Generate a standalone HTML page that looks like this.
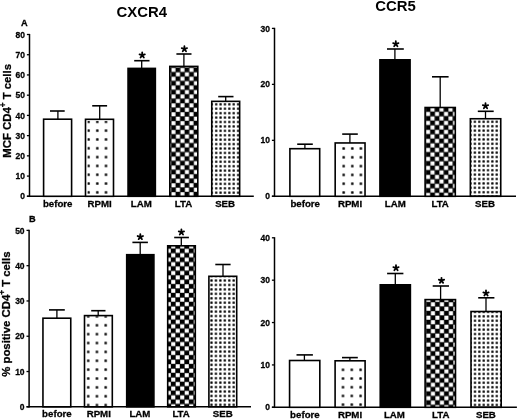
<!DOCTYPE html>
<html><head><meta charset="utf-8"><title>CXCR4 / CCR5</title>
<style>
html,body{margin:0;padding:0;background:#fff;}
body{width:520px;height:419px;overflow:hidden;font-family:"Liberation Sans", sans-serif;}
svg{display:block;filter:grayscale(1);}
text.s{stroke:#000;stroke-width:0.28px;}
</style></head><body>
<svg width="520" height="419" viewBox="0 0 520 419" font-family='"Liberation Sans", sans-serif' font-weight="bold" fill="#000"><defs><pattern id="p1" patternUnits="userSpaceOnUse" x="84.25" y="117.39" width="8.7" height="8.82"><rect x="3.15" y="3.21" width="2.4" height="2.4" rx="0.54" fill="#000"/></pattern><pattern id="p2" patternUnits="userSpaceOnUse" x="175.7" y="138.7" width="9" height="8.88"><rect x="0" y="0" width="9" height="8.88" fill="#000"/><rect x="4.7" y="0.2" width="4.1" height="4.04" fill="#fff"/><rect x="0.2" y="4.64" width="4.1" height="4.04" fill="#fff"/></pattern><pattern id="p3" patternUnits="userSpaceOnUse" x="214.01" y="102.09" width="4.38" height="4.42"><rect x="1.07" y="1.09" width="2.24" height="2.24" rx="0.5" fill="#000"/></pattern><pattern id="p4" patternUnits="userSpaceOnUse" x="339.4" y="144.1" width="8.6" height="8.8"><rect x="3.1" y="3.2" width="2.4" height="2.4" rx="0.54" fill="#000"/></pattern><pattern id="p5" patternUnits="userSpaceOnUse" x="430.3" y="138.7" width="9" height="9"><rect x="0" y="0" width="9" height="9" fill="#000"/><rect x="4.7" y="0.2" width="4.1" height="4.1" fill="#fff"/><rect x="0.2" y="4.7" width="4.1" height="4.1" fill="#fff"/></pattern><pattern id="p6" patternUnits="userSpaceOnUse" x="472.71" y="119.6" width="4.37" height="4.4"><rect x="1.06" y="1.08" width="2.24" height="2.24" rx="0.5" fill="#000"/></pattern><pattern id="p7" patternUnits="userSpaceOnUse" x="83.83" y="311.96" width="8.75" height="8.87"><rect x="3.17" y="3.23" width="2.4" height="2.4" rx="0.54" fill="#000"/></pattern><pattern id="p8" patternUnits="userSpaceOnUse" x="171" y="248.6" width="9" height="8.88"><rect x="0" y="0" width="9" height="8.88" fill="#000"/><rect x="4.7" y="0.2" width="4.1" height="4.04" fill="#fff"/><rect x="0.2" y="4.64" width="4.1" height="4.04" fill="#fff"/></pattern><pattern id="p9" patternUnits="userSpaceOnUse" x="209.28" y="278.28" width="4.44" height="4.44"><rect x="1.1" y="1.1" width="2.24" height="2.24" rx="0.5" fill="#000"/></pattern><pattern id="p10" patternUnits="userSpaceOnUse" x="338.6" y="365.45" width="8.8" height="8.7"><rect x="3.2" y="3.15" width="2.4" height="2.4" rx="0.54" fill="#000"/></pattern><pattern id="p11" patternUnits="userSpaceOnUse" x="426.2" y="302.1" width="9" height="8.94"><rect x="0" y="0" width="9" height="8.94" fill="#000"/><rect x="4.7" y="0.2" width="4.1" height="4.07" fill="#fff"/><rect x="0.2" y="4.67" width="4.1" height="4.07" fill="#fff"/></pattern><pattern id="p12" patternUnits="userSpaceOnUse" x="472.82" y="314.09" width="4.36" height="4.43"><rect x="1.06" y="1.09" width="2.24" height="2.24" rx="0.5" fill="#000"/></pattern></defs><line x1="29.5" y1="33.9" x2="29.5" y2="197.05" stroke="#000" stroke-width="1.5"/>
<line x1="26.9" y1="196.3" x2="253.8" y2="196.3" stroke="#000" stroke-width="1.5"/>
<line x1="26.9" y1="196.3" x2="29.5" y2="196.3" stroke="#000" stroke-width="1.3"/>
<text x="25" y="199.4" font-size="8.5" text-anchor="end" class="s">0</text>
<line x1="26.9" y1="176.08" x2="29.5" y2="176.08" stroke="#000" stroke-width="1.3"/>
<text x="25" y="179.18" font-size="8.5" text-anchor="end" class="s">10</text>
<line x1="26.9" y1="155.85" x2="29.5" y2="155.85" stroke="#000" stroke-width="1.3"/>
<text x="25" y="158.95" font-size="8.5" text-anchor="end" class="s">20</text>
<line x1="26.9" y1="135.62" x2="29.5" y2="135.62" stroke="#000" stroke-width="1.3"/>
<text x="25" y="138.72" font-size="8.5" text-anchor="end" class="s">30</text>
<line x1="26.9" y1="115.4" x2="29.5" y2="115.4" stroke="#000" stroke-width="1.3"/>
<text x="25" y="118.5" font-size="8.5" text-anchor="end" class="s">40</text>
<line x1="26.9" y1="95.18" x2="29.5" y2="95.18" stroke="#000" stroke-width="1.3"/>
<text x="25" y="98.28" font-size="8.5" text-anchor="end" class="s">50</text>
<line x1="26.9" y1="74.95" x2="29.5" y2="74.95" stroke="#000" stroke-width="1.3"/>
<text x="25" y="78.05" font-size="8.5" text-anchor="end" class="s">60</text>
<line x1="26.9" y1="54.73" x2="29.5" y2="54.73" stroke="#000" stroke-width="1.3"/>
<text x="25" y="57.83" font-size="8.5" text-anchor="end" class="s">70</text>
<line x1="26.9" y1="34.5" x2="29.5" y2="34.5" stroke="#000" stroke-width="1.3"/>
<text x="25" y="37.6" font-size="8.5" text-anchor="end" class="s">80</text>
<rect x="43.6" y="119.2" width="28" height="77.1" fill="#fff" stroke="#000" stroke-width="1.6"/>
<line x1="57.9" y1="111" x2="57.9" y2="119.2" stroke="#000" stroke-width="1.3"/>
<line x1="50" y1="111" x2="64.7" y2="111" stroke="#000" stroke-width="1.6"/>
<text x="57.7" y="207.3" font-size="9.7" text-anchor="middle" class="s">before</text>
<rect x="85.5" y="119.3" width="28" height="77" fill="#fff"/>
<rect x="87.4" y="120.9" width="24.2" height="75.4" fill="url(#p1)"/>
<rect x="85.5" y="119.3" width="28" height="77" fill="none" stroke="#000" stroke-width="1.6"/>
<line x1="99.7" y1="105.8" x2="99.7" y2="119.3" stroke="#000" stroke-width="1.3"/>
<line x1="92.2" y1="105.8" x2="107.1" y2="105.8" stroke="#000" stroke-width="1.6"/>
<text x="99.55" y="207.3" font-size="9.7" text-anchor="middle" class="s">RPMI</text>
<rect x="128.05" y="68.4" width="27.3" height="127.9" fill="#000" stroke="#000" stroke-width="1.6"/>
<line x1="141.7" y1="60.7" x2="141.7" y2="68.4" stroke="#000" stroke-width="1.3"/>
<line x1="134.2" y1="60.7" x2="149.5" y2="60.7" stroke="#000" stroke-width="1.6"/>
<path d="M142.2 55.2L142.2 52.4 M142.2 55.2L144.86 54.33 M142.2 55.2L143.85 57.47 M142.2 55.2L140.55 57.47 M142.2 55.2L139.54 54.33" stroke="#000" stroke-width="1.8" stroke-linecap="round" fill="none"/>
<text x="141.35" y="207.3" font-size="9.7" text-anchor="middle" class="s">LAM</text>
<rect x="169.8" y="66.4" width="28" height="129.9" fill="url(#p2)" stroke="#000" stroke-width="1.6"/>
<line x1="183.9" y1="54" x2="183.9" y2="66.4" stroke="#000" stroke-width="1.3"/>
<line x1="176.4" y1="54" x2="191.5" y2="54" stroke="#000" stroke-width="1.6"/>
<path d="M184.4 49L184.4 46.2 M184.4 49L187.06 48.13 M184.4 49L186.05 51.27 M184.4 49L182.75 51.27 M184.4 49L181.74 48.13" stroke="#000" stroke-width="1.8" stroke-linecap="round" fill="none"/>
<text x="183.5" y="207.3" font-size="9.7" text-anchor="middle" class="s">LTA</text>
<rect x="211.75" y="101.35" width="27.9" height="94.95" fill="url(#p3)" stroke="#000" stroke-width="1.6"/>
<line x1="225.7" y1="96.6" x2="225.7" y2="101.35" stroke="#000" stroke-width="1.3"/>
<line x1="218.2" y1="96.6" x2="233.5" y2="96.6" stroke="#000" stroke-width="1.6"/>
<text x="225.1" y="207.3" font-size="9.7" text-anchor="middle" class="s">SEB</text>
<line x1="274.5" y1="27.8" x2="274.5" y2="197.05" stroke="#000" stroke-width="1.5"/>
<line x1="271.9" y1="196.3" x2="516" y2="196.3" stroke="#000" stroke-width="1.5"/>
<line x1="271.9" y1="196.3" x2="274.5" y2="196.3" stroke="#000" stroke-width="1.3"/>
<text x="270" y="199.4" font-size="8.5" text-anchor="end" class="s">0</text>
<line x1="271.9" y1="140.33" x2="274.5" y2="140.33" stroke="#000" stroke-width="1.3"/>
<text x="270" y="143.43" font-size="8.5" text-anchor="end" class="s">10</text>
<line x1="271.9" y1="84.37" x2="274.5" y2="84.37" stroke="#000" stroke-width="1.3"/>
<text x="270" y="87.47" font-size="8.5" text-anchor="end" class="s">20</text>
<line x1="271.9" y1="28.4" x2="274.5" y2="28.4" stroke="#000" stroke-width="1.3"/>
<text x="270" y="31.5" font-size="8.5" text-anchor="end" class="s">30</text>
<rect x="289.9" y="148.7" width="29.8" height="47.6" fill="#fff" stroke="#000" stroke-width="1.6"/>
<line x1="304.9" y1="144.2" x2="304.9" y2="148.7" stroke="#000" stroke-width="1.3"/>
<line x1="297.2" y1="144.2" x2="312.8" y2="144.2" stroke="#000" stroke-width="1.6"/>
<text x="305.2" y="207.3" font-size="9.7" text-anchor="middle" class="s">before</text>
<rect x="335.18" y="142.95" width="29.85" height="53.35" fill="#fff"/>
<rect x="337.07" y="144.55" width="26.05" height="51.75" fill="url(#p4)"/>
<rect x="335.18" y="142.95" width="29.85" height="53.35" fill="none" stroke="#000" stroke-width="1.6"/>
<line x1="349.9" y1="134.1" x2="349.9" y2="142.95" stroke="#000" stroke-width="1.3"/>
<line x1="342.2" y1="134.1" x2="357.8" y2="134.1" stroke="#000" stroke-width="1.6"/>
<text x="350" y="207.3" font-size="9.7" text-anchor="middle" class="s">RPMI</text>
<rect x="379.93" y="59.8" width="30.15" height="136.5" fill="#000" stroke="#000" stroke-width="1.6"/>
<line x1="394.9" y1="49" x2="394.9" y2="59.8" stroke="#000" stroke-width="1.3"/>
<line x1="387" y1="49" x2="403.8" y2="49" stroke="#000" stroke-width="1.6"/>
<path d="M395.8 44L395.8 41.2 M395.8 44L398.46 43.13 M395.8 44L397.45 46.27 M395.8 44L394.15 46.27 M395.8 44L393.14 43.13" stroke="#000" stroke-width="1.8" stroke-linecap="round" fill="none"/>
<text x="395.25" y="207.3" font-size="9.7" text-anchor="middle" class="s">LAM</text>
<rect x="425.1" y="107.5" width="30.2" height="88.8" fill="url(#p5)" stroke="#000" stroke-width="1.6"/>
<line x1="440.2" y1="76.8" x2="440.2" y2="107.5" stroke="#000" stroke-width="1.3"/>
<line x1="432" y1="76.8" x2="448.6" y2="76.8" stroke="#000" stroke-width="1.6"/>
<text x="440.15" y="207.3" font-size="9.7" text-anchor="middle" class="s">LTA</text>
<rect x="470.35" y="118.75" width="30.4" height="77.55" fill="url(#p6)" stroke="#000" stroke-width="1.6"/>
<line x1="485.5" y1="111.3" x2="485.5" y2="118.75" stroke="#000" stroke-width="1.3"/>
<line x1="477.8" y1="111.3" x2="493.7" y2="111.3" stroke="#000" stroke-width="1.6"/>
<path d="M485.5 106L485.5 103.2 M485.5 106L488.16 105.13 M485.5 106L487.15 108.27 M485.5 106L483.85 108.27 M485.5 106L482.84 105.13" stroke="#000" stroke-width="1.8" stroke-linecap="round" fill="none"/>
<text x="485" y="207.3" font-size="9.7" text-anchor="middle" class="s">SEB</text>
<line x1="29.1" y1="229.8" x2="29.1" y2="407.55" stroke="#000" stroke-width="1.5"/>
<line x1="26.5" y1="406.8" x2="251" y2="406.8" stroke="#000" stroke-width="1.5"/>
<line x1="26.5" y1="406.8" x2="29.1" y2="406.8" stroke="#000" stroke-width="1.3"/>
<text x="24.6" y="409.9" font-size="8.5" text-anchor="end" class="s">0</text>
<line x1="26.5" y1="371.52" x2="29.1" y2="371.52" stroke="#000" stroke-width="1.3"/>
<text x="24.6" y="374.62" font-size="8.5" text-anchor="end" class="s">10</text>
<line x1="26.5" y1="336.24" x2="29.1" y2="336.24" stroke="#000" stroke-width="1.3"/>
<text x="24.6" y="339.34" font-size="8.5" text-anchor="end" class="s">20</text>
<line x1="26.5" y1="300.96" x2="29.1" y2="300.96" stroke="#000" stroke-width="1.3"/>
<text x="24.6" y="304.06" font-size="8.5" text-anchor="end" class="s">30</text>
<line x1="26.5" y1="265.68" x2="29.1" y2="265.68" stroke="#000" stroke-width="1.3"/>
<text x="24.6" y="268.78" font-size="8.5" text-anchor="end" class="s">40</text>
<line x1="26.5" y1="230.4" x2="29.1" y2="230.4" stroke="#000" stroke-width="1.3"/>
<text x="24.6" y="233.5" font-size="8.5" text-anchor="end" class="s">50</text>
<rect x="42.95" y="318.2" width="27.8" height="88.6" fill="#fff" stroke="#000" stroke-width="1.6"/>
<line x1="56.9" y1="309.9" x2="56.9" y2="318.2" stroke="#000" stroke-width="1.3"/>
<line x1="49" y1="309.9" x2="64.8" y2="309.9" stroke="#000" stroke-width="1.6"/>
<text x="56.9" y="417.3" font-size="9.7" text-anchor="middle" class="s">before</text>
<rect x="84.5" y="315.6" width="27.8" height="91.2" fill="#fff"/>
<rect x="86.4" y="316.2" width="24" height="90.6" fill="url(#p7)"/>
<rect x="84.5" y="315.6" width="27.8" height="91.2" fill="none" stroke="#000" stroke-width="1.6"/>
<line x1="98.2" y1="310.7" x2="98.2" y2="315.6" stroke="#000" stroke-width="1.3"/>
<line x1="91.2" y1="310.7" x2="105.5" y2="310.7" stroke="#000" stroke-width="1.6"/>
<text x="98.75" y="417.3" font-size="9.7" text-anchor="middle" class="s">RPMI</text>
<rect x="126.7" y="254.7" width="27.2" height="152.1" fill="#000" stroke="#000" stroke-width="1.6"/>
<line x1="140.2" y1="242.4" x2="140.2" y2="254.7" stroke="#000" stroke-width="1.3"/>
<line x1="132.4" y1="242.4" x2="147.9" y2="242.4" stroke="#000" stroke-width="1.6"/>
<path d="M140.3 236.9L140.3 234.1 M140.3 236.9L142.96 236.03 M140.3 236.9L141.95 239.17 M140.3 236.9L138.65 239.17 M140.3 236.9L137.64 236.03" stroke="#000" stroke-width="1.8" stroke-linecap="round" fill="none"/>
<text x="139.9" y="417.3" font-size="9.7" text-anchor="middle" class="s">LAM</text>
<rect x="167.7" y="245.8" width="27.6" height="161" fill="url(#p8)" stroke="#000" stroke-width="1.6"/>
<line x1="181.3" y1="237.5" x2="181.3" y2="245.8" stroke="#000" stroke-width="1.3"/>
<line x1="174.2" y1="237.5" x2="188.9" y2="237.5" stroke="#000" stroke-width="1.6"/>
<path d="M181.4 232.2L181.4 229.4 M181.4 232.2L184.06 231.33 M181.4 232.2L183.05 234.47 M181.4 232.2L179.75 234.47 M181.4 232.2L178.74 231.33" stroke="#000" stroke-width="1.8" stroke-linecap="round" fill="none"/>
<text x="181.1" y="417.3" font-size="9.7" text-anchor="middle" class="s">LTA</text>
<rect x="208.9" y="276.3" width="27.8" height="130.5" fill="url(#p9)" stroke="#000" stroke-width="1.6"/>
<line x1="223" y1="264.5" x2="223" y2="276.3" stroke="#000" stroke-width="1.3"/>
<line x1="215.3" y1="264.5" x2="230.6" y2="264.5" stroke="#000" stroke-width="1.6"/>
<text x="222.7" y="417.3" font-size="9.7" text-anchor="middle" class="s">SEB</text>
<line x1="274.5" y1="237.2" x2="274.5" y2="408.05" stroke="#000" stroke-width="1.5"/>
<line x1="271.9" y1="407.3" x2="516.9" y2="407.3" stroke="#000" stroke-width="1.5"/>
<line x1="271.9" y1="407.3" x2="274.5" y2="407.3" stroke="#000" stroke-width="1.3"/>
<text x="270" y="410.4" font-size="8.5" text-anchor="end" class="s">0</text>
<line x1="271.9" y1="364.93" x2="274.5" y2="364.93" stroke="#000" stroke-width="1.3"/>
<text x="270" y="368.03" font-size="8.5" text-anchor="end" class="s">10</text>
<line x1="271.9" y1="322.55" x2="274.5" y2="322.55" stroke="#000" stroke-width="1.3"/>
<text x="270" y="325.65" font-size="8.5" text-anchor="end" class="s">20</text>
<line x1="271.9" y1="280.18" x2="274.5" y2="280.18" stroke="#000" stroke-width="1.3"/>
<text x="270" y="283.28" font-size="8.5" text-anchor="end" class="s">30</text>
<line x1="271.9" y1="237.8" x2="274.5" y2="237.8" stroke="#000" stroke-width="1.3"/>
<text x="270" y="240.9" font-size="8.5" text-anchor="end" class="s">40</text>
<rect x="289.57" y="360.5" width="30.25" height="46.8" fill="#fff" stroke="#000" stroke-width="1.6"/>
<line x1="304.4" y1="354.9" x2="304.4" y2="360.5" stroke="#000" stroke-width="1.3"/>
<line x1="296.5" y1="354.9" x2="312.9" y2="354.9" stroke="#000" stroke-width="1.6"/>
<text x="304.9" y="417.6" font-size="9.7" text-anchor="middle" class="s">before</text>
<rect x="335.1" y="360.8" width="30" height="46.5" fill="#fff"/>
<rect x="337" y="363.2" width="26.2" height="44.1" fill="url(#p10)"/>
<rect x="335.1" y="360.8" width="30" height="46.5" fill="none" stroke="#000" stroke-width="1.6"/>
<line x1="349.9" y1="357.6" x2="349.9" y2="360.8" stroke="#000" stroke-width="1.3"/>
<line x1="342" y1="357.6" x2="357.8" y2="357.6" stroke="#000" stroke-width="1.6"/>
<text x="350" y="417.6" font-size="9.7" text-anchor="middle" class="s">RPMI</text>
<rect x="380.23" y="284.8" width="30.15" height="122.5" fill="#000" stroke="#000" stroke-width="1.6"/>
<line x1="395.3" y1="273.5" x2="395.3" y2="284.8" stroke="#000" stroke-width="1.3"/>
<line x1="387.1" y1="273.5" x2="403.4" y2="273.5" stroke="#000" stroke-width="1.6"/>
<path d="M396 268L396 265.2 M396 268L398.66 267.13 M396 268L397.65 270.27 M396 268L394.35 270.27 M396 268L393.34 267.13" stroke="#000" stroke-width="1.8" stroke-linecap="round" fill="none"/>
<text x="394.45" y="417.6" font-size="9.7" text-anchor="middle" class="s">LAM</text>
<rect x="425.1" y="299.6" width="30.4" height="107.7" fill="url(#p11)" stroke="#000" stroke-width="1.6"/>
<line x1="440.6" y1="286" x2="440.6" y2="299.6" stroke="#000" stroke-width="1.3"/>
<line x1="432.7" y1="286" x2="449" y2="286" stroke="#000" stroke-width="1.6"/>
<path d="M441.5 280.6L441.5 277.8 M441.5 280.6L444.16 279.73 M441.5 280.6L443.15 282.87 M441.5 280.6L439.85 282.87 M441.5 280.6L438.84 279.73" stroke="#000" stroke-width="1.8" stroke-linecap="round" fill="none"/>
<text x="440.7" y="417.6" font-size="9.7" text-anchor="middle" class="s">LTA</text>
<rect x="471" y="311.5" width="30.2" height="95.8" fill="url(#p12)" stroke="#000" stroke-width="1.6"/>
<line x1="486" y1="297.8" x2="486" y2="311.5" stroke="#000" stroke-width="1.3"/>
<line x1="478.2" y1="297.8" x2="494.4" y2="297.8" stroke="#000" stroke-width="1.6"/>
<path d="M486 293.3L486 290.5 M486 293.3L488.66 292.43 M486 293.3L487.65 295.57 M486 293.3L484.35 295.57 M486 293.3L483.34 292.43" stroke="#000" stroke-width="1.8" stroke-linecap="round" fill="none"/>
<text x="485.9" y="417.6" font-size="9.7" text-anchor="middle" class="s">SEB</text>
<text x="141.7" y="17.4" font-size="14.9" text-anchor="middle" >CXCR4</text>
<text x="395.5" y="11" font-size="14.9" text-anchor="middle" >CCR5</text>
<text x="24.3" y="26" font-size="9.2" text-anchor="middle" class="s">A</text>
<text x="32.4" y="221.9" font-size="9.2" text-anchor="middle" class="s">B</text>
<text class="s" transform="translate(10.7 157.7) rotate(-90)" x="0" y="0" font-size="11.4" textLength="93.7" lengthAdjust="spacingAndGlyphs">MCF CD4<tspan font-size="8.2" dy="-4.8">+</tspan><tspan dy="4.8"> T cells</tspan></text>
<text class="s" transform="translate(10.2 376.8) rotate(-90)" x="0" y="0" font-size="11.4" textLength="125.3" lengthAdjust="spacingAndGlyphs">% positive CD4<tspan font-size="8.2" dy="-4.8">+</tspan><tspan dy="4.8"> T cells</tspan></text></svg>
</body></html>
